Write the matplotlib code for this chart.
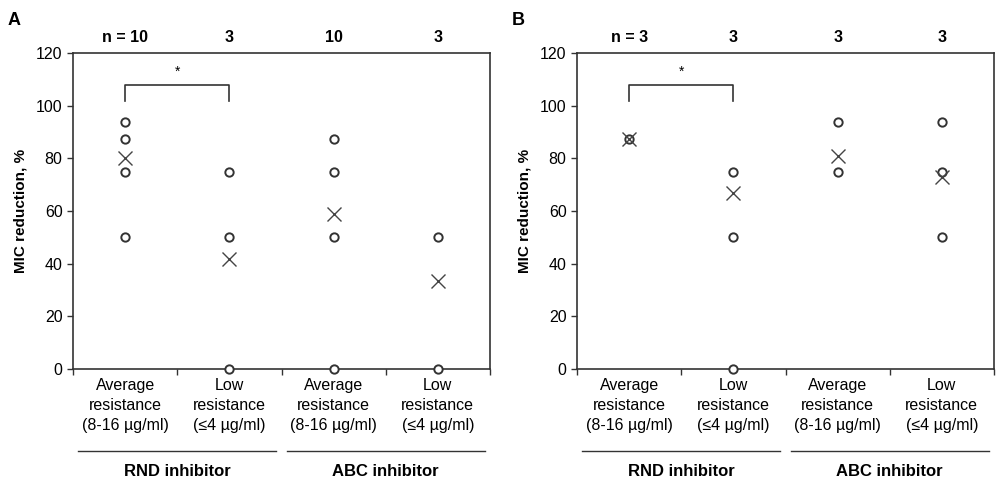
import numpy as np
import matplotlib.pyplot as plt
from matplotlib.lines import Line2D

plt.rcParams["font.family"] = ["Liberation Sans", "DejaVu Sans"]

# ── Data ────────────────────────────────────────────────────────────────
categories = ["Average\nresistance\n(8-16 µg/ml)", "Low\nresistance\n(≤4 µg/ml)",
              "Average\nresistance\n(8-16 µg/ml)", "Low\nresistance\n(≤4 µg/ml)"]
groups = ["RND inhibitor", "ABC inhibitor"]

a_points = [[93.75, 87.5, 75, 50], [75, 50, 0], [87.5, 75, 50, 0], [50, 0]]
a_means = [80, 41.7, 58.75, 33.3]
a_n = ["n = 10", "3", "10", "3"]

b_points = [[87.5], [75, 50, 0], [93.75, 75], [93.75, 75, 50]]
b_means = [87.5, 66.7, 81, 73]
b_n = ["n = 3", "3", "3", "3"]

yticks = [0, 20, 40, 60, 80, 100, 120]

DARK = "#333333"


def draw_panel(fig, left, points, means, nlabels, letter):
    ax = fig.add_axes([left, 0.236, 0.417, 0.654])
    x = np.arange(1, len(points) + 1)
    for xi, pts in zip(x, points):
        ax.plot([xi] * len(pts), pts, "o", ms=6, mfc="white", mec=DARK,
                mew=1.4, clip_on=False, zorder=3)
    ax.plot(x, means, "x", ms=9.5, color="#444444", mew=1.0, zorder=4)

    ax.set_xlim(0.5, 4.5)
    ax.set_ylim(0, 120)
    ax.set_yticks(yticks)
    ax.set_xticks([0.5, 1.5, 2.5, 3.5, 4.5])
    ax.set_xticklabels([])
    ax.tick_params(direction="out", length=4, width=1, labelsize=11.5,
                   color=DARK)
    for s in ax.spines.values():
        s.set_color(DARK)
        s.set_linewidth(1.2)
    ax.set_ylabel("MIC reduction, %", fontsize=11, fontweight="bold", labelpad=6)

    # category labels
    for xi, lab in zip(x, categories):
        ax.text(xi, -3.5, lab, ha="center", va="top", fontsize=11.5,
                linespacing=1.42, transform=ax.transData)
    # group lines + labels
    trans = ax.get_xaxis_transform()
    for gi, g in enumerate(groups):
        x0, x1 = 0.5 + 2 * gi + 0.05, 2.5 + 2 * gi - 0.05
        ax.add_line(Line2D([x0, x1], [-0.258, -0.258], transform=trans,
                           color=DARK, lw=1, clip_on=False))
        ax.text((x0 + x1) / 2, -0.3, g, transform=trans, ha="center",
                va="top", fontsize=12, fontweight="bold")
    # n labels
    for xi, n in zip(x, nlabels):
        ax.text(xi, 1.025, n, transform=trans, ha="center", va="bottom",
                fontsize=11.5, fontweight="bold")
    # significance bracket
    ax.plot([1, 1, 2, 2], [102, 108, 108, 102], color=DARK, lw=1.2)
    ax.text(1.5, 113, "*", ha="center", va="center", fontsize=10)

    fig.text(left - 0.065, 0.975, letter, fontsize=13, fontweight="bold",
             ha="left", va="top")
    return ax


fig = plt.figure(figsize=(10, 4.83), dpi=100)
draw_panel(fig, 0.073, a_points, a_means, a_n, "A")
draw_panel(fig, 0.577, b_points, b_means, b_n, "B")
fig.savefig("out.png", dpi=100)
